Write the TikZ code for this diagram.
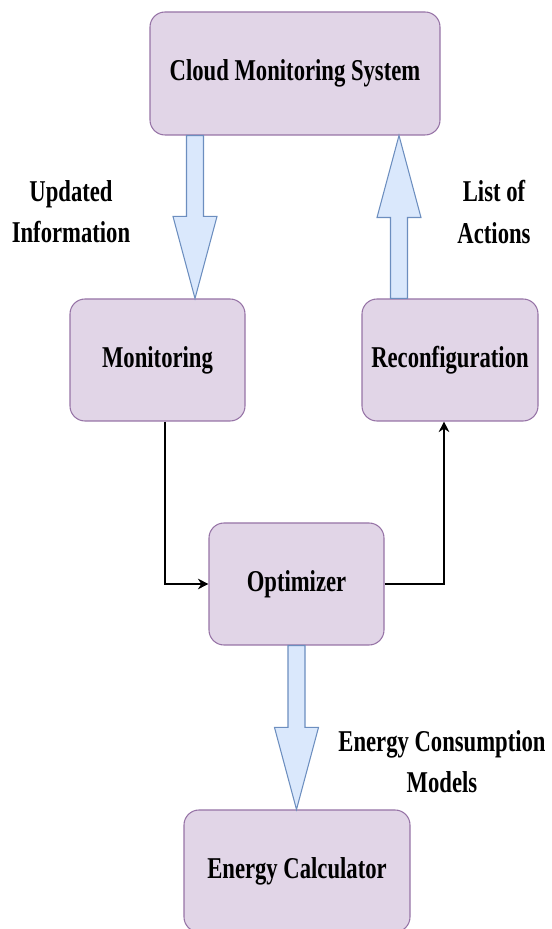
\documentclass[tikz,border=0pt]{standalone}
\usepackage{fontspec}
\newfontfamily\diagfont{Liberation Serif}[FakeStretch=0.75]
\usetikzlibrary{calc,arrows.meta}
\definecolor{boxfill}{HTML}{E1D5E7}
\definecolor{boxline}{HTML}{9673A6}
\definecolor{arrfill}{HTML}{DAE8FC}
\definecolor{arrline}{HTML}{6C8EBF}
\begin{document}
\begin{tikzpicture}[
	font=\diagfont\bfseries\fontsize{17.2}{23.5}\selectfont,
	box/.style={draw=boxline,fill=boxfill,rounded corners=0.3cm,line width=0.6pt,
		minimum width=3.5cm,minimum height=2.44cm,inner sep=0pt},
	fatarrow/.style={draw=arrline,fill=arrfill,line width=0.6pt},
	thinarrow/.style={-{Stealth[length=6pt,width=6pt]},line width=0.6pt},
	lbl/.style={align=center}
]
\useasboundingbox (0,0) rectangle (11.02,18.58);

\node[box,minimum width=5.8cm,minimum height=2.46cm] (cloud) at (5.90,17.11) {Cloud Monitoring System};
\node[box] (monitor) at (3.15,11.38) {Monitoring};
\node[box,minimum width=3.52cm] (reconf) at (9.00,11.38) {Reconfiguration};
\node[box] (optim) at (5.93,6.90) {Optimizer};
\node[box,minimum width=4.52cm] (ecalc) at (5.94,1.16) {Energy Calculator};

\coordinate (a1) at ([xshift=-2cm]cloud.south);
\coordinate (b1) at (a1 |- monitor.north);
\coordinate (a2) at ([xshift=-1.02cm]reconf.north);
\coordinate (b2) at (a2 |- cloud.south);
\coordinate (a3) at (optim.south);
\coordinate (b3) at (a3 |- ecalc.north);

\foreach \a/\b in {a1/b1,a2/b2,a3/b3}
{
	\coordinate (h) at ($(\b)!1.64cm!(\a)$);
	\draw[fatarrow] ($(\a)!0.17cm!90:(\b)$) -- ($(h)!0.17cm!90:(\b)$) -- ($(h)!0.44cm!90:(\b)$)
		-- (\b) -- ($(h)!0.44cm!-90:(\b)$) -- ($(h)!0.17cm!-90:(\b)$) -- ($(\a)!0.17cm!-90:(\b)$) -- cycle;
}

\draw[thinarrow] ([xshift=0.15cm]monitor.south) |- (optim.west);
\draw[thinarrow] (optim.east) -| ([xshift=-0.12cm]reconf.south);

\node[lbl] (updinfo) at (1.42,14.34) {Updated\\Information};
\node[lbl] (actlist) at (9.88,14.34) {List of\\Actions};
\node[lbl] (emodels) at (8.84,3.34) {Energy Consumption\\Models};
\end{tikzpicture}
\end{document}
